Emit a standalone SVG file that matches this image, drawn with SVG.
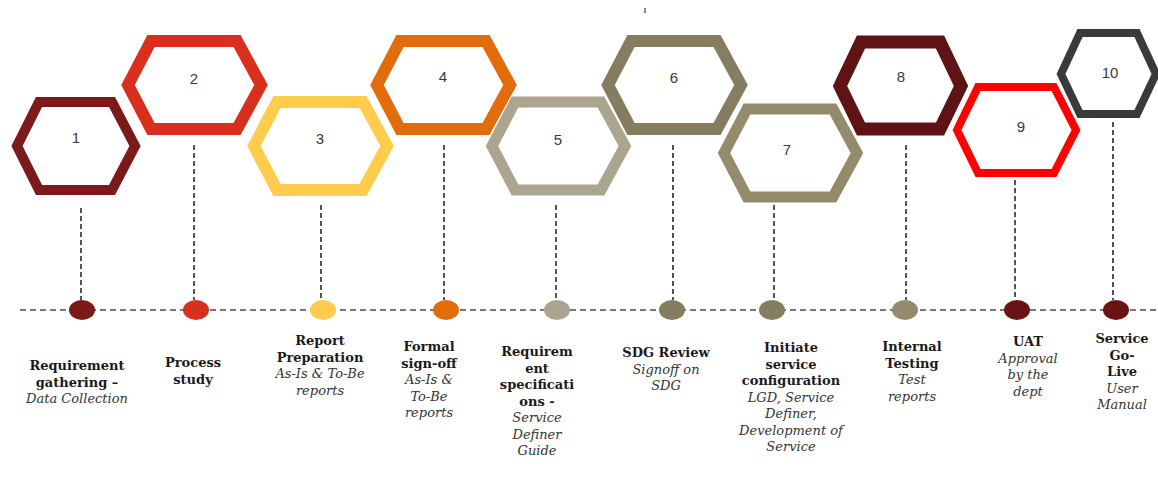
<svg xmlns="http://www.w3.org/2000/svg" width="1158" height="486" viewBox="0 0 1158 486">
<style>
.hex{fill:#fff;stroke-linejoin:miter}
.num{font-family:"Liberation Sans",Arial,sans-serif;font-size:15px;fill:#3a3a3a;text-anchor:middle}
.t{font-family:"DejaVu Serif","Liberation Serif",serif;font-size:13px;font-weight:bold;fill:#1a1a1a;text-anchor:middle}
.s{font-family:"DejaVu Serif","Liberation Serif",serif;font-size:13px;font-style:italic;fill:#333;text-anchor:middle}
.vl{stroke:#555;stroke-width:2;stroke-dasharray:5 3;fill:none}
.hl{stroke:#777;stroke-width:2;stroke-dasharray:6 4;fill:none}
</style>
<rect width="1158" height="486" fill="#fff"/>
<rect x="644" y="8" width="2" height="5" fill="#888"/>
<g id="connectors">
<line class="hl" x1="20" y1="310" x2="1158" y2="310"/>
<line class="vl" x1="81" y1="208" x2="81" y2="300"/>
<line class="vl" x1="194" y1="145" x2="194" y2="300"/>
<line class="vl" x1="321" y1="205" x2="321" y2="300"/>
<line class="vl" x1="444" y1="145" x2="444" y2="300"/>
<line class="vl" x1="556" y1="205" x2="556" y2="300"/>
<line class="vl" x1="673" y1="145" x2="673" y2="300"/>
<line class="vl" x1="774" y1="205" x2="774" y2="300"/>
<line class="vl" x1="906" y1="145" x2="906" y2="300"/>
<line class="vl" x1="1015" y1="180" x2="1015" y2="300"/>
<line class="vl" x1="1113" y1="122" x2="1113" y2="300"/>
</g>
<g id="node1">
<polygon class="hex" stroke="#7b1a1a" stroke-width="10" points="17,146 39,102 112,102 135,146 112,190 39,190"/>
<text class="num" x="76" y="143">1</text>
<ellipse cx="82" cy="310" rx="13" ry="10" fill="#7b1a1a"/>
<text class="t" x="77" y="370">Requirement</text>
<text class="t" x="77" y="386.5">gathering –</text>
<text class="s" x="77" y="403">Data Collection</text>
</g>
<g id="node2">
<polygon class="hex" stroke="#d9301e" stroke-width="12" points="128,85 151,41 237,41 261,85 237,129 151,129"/>
<text class="num" x="194" y="84">2</text>
<ellipse cx="196" cy="310" rx="13" ry="10" fill="#d9301e"/>
<text class="t" x="193" y="367">Process</text>
<text class="t" x="193" y="383.5">study</text>
</g>
<g id="node3">
<polygon class="hex" stroke="#ffcc4d" stroke-width="12" points="254,146 277,102 363,102 387,146 363,190 277,190"/>
<text class="num" x="320" y="144">3</text>
<ellipse cx="323" cy="310" rx="13" ry="10" fill="#ffcc4d"/>
<text class="t" x="320" y="345">Report</text>
<text class="t" x="320" y="361.5">Preparation</text>
<text class="s" x="320" y="378">As-Is &amp; To-Be</text>
<text class="s" x="320" y="394.5">reports</text>
</g>
<g id="node4">
<polygon class="hex" stroke="#e36c0a" stroke-width="12" points="377,85 400,41 486,41 510,85 486,129 400,129"/>
<text class="num" x="443" y="82">4</text>
<ellipse cx="446" cy="310" rx="13" ry="10" fill="#e36c0a"/>
<text class="t" x="429" y="351">Formal</text>
<text class="t" x="429" y="367.5">sign-off</text>
<text class="s" x="429" y="384">As-Is &amp;</text>
<text class="s" x="429" y="400.5">To-Be</text>
<text class="s" x="429" y="417">reports</text>
</g>
<g id="node5">
<polygon class="hex" stroke="#aba48f" stroke-width="11" points="492,146 515,102 601,102 625,146 601,190 515,190"/>
<text class="num" x="558" y="145">5</text>
<ellipse cx="557" cy="310" rx="13" ry="10" fill="#aba48f"/>
<text class="t" x="537" y="356">Requirem</text>
<text class="t" x="537" y="372.5">ent</text>
<text class="t" x="537" y="389">specificati</text>
<text class="t" x="537" y="405.5">ons -</text>
<text class="s" x="537" y="422">Service</text>
<text class="s" x="537" y="438.5">Definer</text>
<text class="s" x="537" y="455">Guide</text>
</g>
<g id="node6">
<polygon class="hex" stroke="#857d60" stroke-width="12" points="608,85 631,41 717,41 741,85 717,129 631,129"/>
<text class="num" x="674" y="83">6</text>
<ellipse cx="672" cy="310" rx="13" ry="10" fill="#857d60"/>
<text class="t" x="666" y="357">SDG Review</text>
<text class="s" x="666" y="373.5">Signoff on</text>
<text class="s" x="666" y="390">SDG</text>
</g>
<g id="node7">
<polygon class="hex" stroke="#938b6b" stroke-width="11" points="724,153 747,109 833,109 857,153 833,197 747,197"/>
<text class="num" x="787" y="155">7</text>
<ellipse cx="772" cy="310" rx="13" ry="10" fill="#857d60"/>
<text class="t" x="791" y="352">Initiate</text>
<text class="t" x="791" y="368.5">service</text>
<text class="t" x="791" y="385">configuration</text>
<text class="s" x="791" y="401.5">LGD, Service</text>
<text class="s" x="791" y="418">Definer,</text>
<text class="s" x="791" y="434.5">Development of</text>
<text class="s" x="791" y="451">Service</text>
</g>
<g id="node8">
<polygon class="hex" stroke="#5e1414" stroke-width="13" points="840,86 861,42 940,42 961,86 940,129 861,129"/>
<text class="num" x="901" y="82">8</text>
<ellipse cx="905" cy="310" rx="13" ry="10" fill="#938b6b"/>
<text class="t" x="912" y="351">Internal</text>
<text class="t" x="912" y="367.5">Testing</text>
<text class="s" x="912" y="384">Test</text>
<text class="s" x="912" y="400.5">reports</text>
</g>
<g id="node9">
<polygon class="hex" stroke="#ff0000" stroke-width="8" points="957,130 978,87 1054,87 1076,130 1054,173 978,173"/>
<text class="num" x="1021" y="132">9</text>
<ellipse cx="1017" cy="310" rx="13" ry="10" fill="#6b1414"/>
<text class="t" x="1028" y="346">UAT</text>
<text class="s" x="1028" y="362.5">Approval</text>
<text class="s" x="1028" y="379">by the</text>
<text class="s" x="1028" y="395.5">dept</text>
</g>
<g id="node10">
<polygon class="hex" stroke="#3a3a3a" stroke-width="8" points="1061,74 1080,33 1137,33 1156,74 1137,114 1080,114"/>
<text class="num" x="1110" y="78">10</text>
<ellipse cx="1116" cy="310" rx="13" ry="10" fill="#6b1414"/>
<text class="t" x="1122" y="343">Service</text>
<text class="t" x="1122" y="359.5">Go-</text>
<text class="t" x="1122" y="376">Live</text>
<text class="s" x="1122" y="392.5">User</text>
<text class="s" x="1122" y="409">Manual</text>
</g>
</svg>
